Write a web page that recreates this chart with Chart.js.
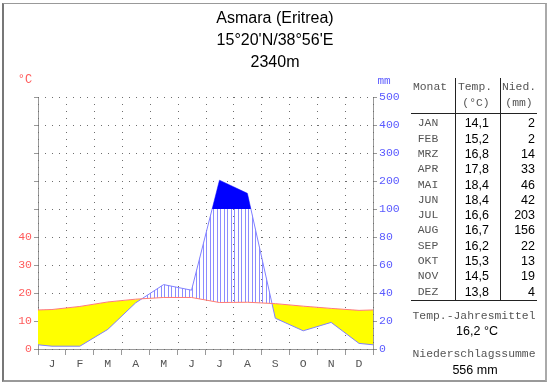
<!DOCTYPE html>
<html><head><meta charset="utf-8">
<script src="https://cdn.jsdelivr.net/npm/chart.js@4"></script>
<style>
html,body{margin:0;padding:0;background:#fff;}
#wrap{position:relative;width:550px;height:384px;overflow:hidden;background:#fff;}
#c{position:absolute;left:0;top:0;}
.t{position:absolute;white-space:nowrap;line-height:1;}
.ln{position:absolute;background:#222;}
#frame{position:absolute;left:2px;top:3px;width:541px;height:376px;border-left:2px solid #777;border-top:1px solid #999;border-right:2px solid #aaa;border-bottom:2px solid #999;}
</style></head><body>
<div id="wrap"><div id="frame"></div><canvas id="c" width="550" height="384"></canvas></div>
<script>
// ---- data ----
const monthLetters = ['J','F','M','A','M','J','J','A','S','O','N','D'];
const monthNames = ['JAN','FEB','MRZ','APR','MAI','JUN','JUL','AUG','SEP','OKT','NOV','DEZ'];
const tempC = [14.1,15.2,16.8,17.8,18.4,18.4,16.6,16.7,16.2,15.3,14.5,13.8];
const precipMm = [2,2,14,33,46,42,203,156,22,13,19,4];
const tempTickLabels = [0,10,20,30,40];
const precipTickLabels = [0,20,40,60,80,100,200,300,400,500];
const titleLines = ['Asmara (Eritrea)','15°20\'N/38°56\'E','2340m'];

// Walter-Lieth scaling: 20 mm = 10 °C up to 100 mm, then 100 mm = 10 units
function precipToScale(mm){ return mm <= 100 ? mm/2 : 50 + (mm-100)/10; }

// wrap-around series (Dec before Jan, Jan after Dec) so lines reach the plot edges
function wrapped(vals){
  const pts = [{x:-0.5, y:vals[11]}];
  vals.forEach((v,i)=>pts.push({x:i+0.5, y:v}));
  pts.push({x:12.5, y:vals[0]});
  return pts;
}
const tempPts = wrapped(tempC);
const precipPts = wrapped(precipMm.map(precipToScale));

// hatch pattern
const pc = document.createElement('canvas'); pc.width = 7; pc.height = 1;
const pctx = pc.getContext('2d'); pctx.fillStyle = '#8c8cff';
pctx.fillRect(0,0,1,1); pctx.fillRect(3,0,1,1);
const hatch = document.getElementById('c').getContext('2d').createPattern(pc,'repeat');

const mono = 'Liberation Mono';
const gridCol = '#6e6e6e';
const xTicks = []; for (let i=0;i<=24;i++) xTicks.push(i/2);

// dotted grid drawn from the scales' own tick positions
const dotGrid = {
  id:'dotGrid',
  beforeDatasetsDraw(chart){
    const {ctx, chartArea:a, scales} = chart;
    ctx.save(); ctx.fillStyle = gridCol;
    scales.x.ticks.forEach(t => {
      if (!Number.isInteger(t.value)) return;
      const px = Math.round(scales.x.getPixelForValue(t.value));
      for (let py = a.top; py <= a.bottom; py += 7) ctx.fillRect(px, Math.round(py), 1, 1);
    });
    scales.y.ticks.forEach(t => {
      const py = Math.round(scales.y.getPixelForValue(t.value));
      for (let px = a.left + 7; px <= a.right; px += 7) ctx.fillRect(Math.round(px), py, 1, 1);
    });
    ctx.restore();
  }
};

new Chart(document.getElementById('c'), {
  type:'line',
  plugins:[dotGrid],
  data:{ datasets:[
    {label:'Temp', data:tempPts, borderColor:'#ff7a7a', borderWidth:1, pointRadius:0, fill:false, tension:0, order:0},
    {label:'Nied', data:precipPts, borderColor:'#8080ff', borderWidth:1, pointRadius:0, tension:0, order:2,
      fill:{target:0, above:hatch, below:'#ffff00'}},
    {label:'Nied>100', data:precipPts, borderColor:'rgba(0,0,0,0)', borderWidth:0, pointRadius:0, tension:0, order:1,
      fill:{value:50, above:'#0000ff', below:'rgba(0,0,0,0)'}}
  ]},
  options:{
    responsive:false, animation:false, devicePixelRatio:1,
    layout:{padding:{left:0, top:97, right:137, bottom:10}},
    plugins:{legend:{display:false}, tooltip:{enabled:false}},
    scales:{
      x:{ type:'linear', min:0, max:12,
        afterBuildTicks: s => { s.ticks = xTicks.map(v=>({value:v})); },
        afterFit: s => { s.height = 25; },
        ticks:{ autoSkip:false, maxRotation:0, padding:2, color:'#555',
          font:{family:mono, size:11.5},
          callback: v => Number.isInteger(v) ? '' : monthLetters[Math.floor(v)] },
        grid:{ drawOnChartArea:false,
          tickColor: c => (c.tick && Number.isInteger(c.tick.value)) ? '#999' : 'rgba(0,0,0,0)',
          tickLength:6, lineWidth:1 },
        border:{ color:'#999', width:1 }
      },
      y:{ type:'linear', position:'left', min:0, max:90,
        afterFit: s => { s.width = 38; },
        ticks:{ stepSize:10, autoSkip:false, padding:2, color:'#ff5a5a',
          font:{family:mono, size:11.5},
          callback: v => tempTickLabels.includes(v) ? String(v) : '' },
        grid:{ drawOnChartArea:false, tickColor:'#999', tickLength:4, lineWidth:1 },
        border:{ color:'#999', width:1 }
      },
      y2:{ type:'linear', position:'right', min:0, max:90,
        afterFit: s => { s.width = 40; },
        ticks:{ stepSize:10, autoSkip:false, padding:2, color:'#5a5aff',
          font:{family:mono, size:11.5},
          callback: (v,i) => String(precipTickLabels[i]) },
        grid:{ drawOnChartArea:false, tickColor:'#999', tickLength:4 },
        border:{ color:'#999', width:1 }
      }
    }
  }
});

// ---- text overlays ----
const wrap = document.getElementById('wrap');
function place(txt, x, y, align, font, color){
  const d = document.createElement('div'); d.className='t'; d.textContent = txt;
  d.style.font = font; d.style.color = color; d.style.top = y+'px';
  if (align==='c'){ d.style.left = x+'px'; d.style.transform='translate(-50%,-50%)'; }
  else if (align==='r'){ d.style.right = (550-x)+'px'; d.style.transform='translateY(-50%)'; }
  else { d.style.left = x+'px'; d.style.transform='translateY(-50%)'; }
  wrap.appendChild(d);
}
function hline(x1,x2,y){ const d=document.createElement('div'); d.className='ln'; d.style.left=x1+'px'; d.style.top=y+'px'; d.style.width=(x2-x1)+'px'; d.style.height='1px'; wrap.appendChild(d); }
function vline(x,y1,y2){ const d=document.createElement('div'); d.className='ln'; d.style.left=x+'px'; d.style.top=y1+'px'; d.style.height=(y2-y1)+'px'; d.style.width='1px'; wrap.appendChild(d); }

const sans = 'Liberation Sans';
titleLines.forEach((t,i)=>place(t, 275, 18+i*22, 'c', `16px "${sans}"`, '#000'));
place('°C', 25, 80, 'c', `12px "${mono}"`, '#ff5a5a');
place('mm', 384, 81, 'c', `11px "${mono}"`, '#5a5aff');

const monoF = `11.4px "${mono}"`, numF = `12.5px "${sans}"`, gray = '#555';
place('Monat', 430, 87, 'c', monoF, gray);
place('Temp.', 475, 87, 'c', monoF, gray);
place('(°C)', 476, 103, 'c', monoF, gray);
place('Nied.', 519, 87, 'c', monoF, gray);
place('(mm)', 519, 103, 'c', monoF, gray);
hline(411, 537, 113);
hline(411, 537, 300);
vline(455, 78, 301);
vline(500, 78, 301);
monthNames.forEach((m,i)=>{
  const y = 123.3 + i*15.3;
  place(m, 428, y, 'c', monoF, gray);
  place(tempC[i].toFixed(1).replace('.',','), 489, y, 'r', numF, '#000');
  place(String(precipMm[i]), 535, y, 'r', numF, '#000');
});
const meanT = Math.round(tempC.reduce((a,b)=>a+b,0)/tempC.length*10 + 1e-6)/10;
const sumP = precipMm.reduce((a,b)=>a+b,0);
place('Temp.-Jahresmittel', 474, 316, 'c', monoF, gray);
place(meanT.toFixed(1).replace('.',',')+' °C', 477, 331, 'c', numF, '#000');
place('Niederschlagssumme', 474, 354, 'c', monoF, gray);
place(sumP+' mm', 475, 370, 'c', numF, '#000');
</script>
</body></html>
